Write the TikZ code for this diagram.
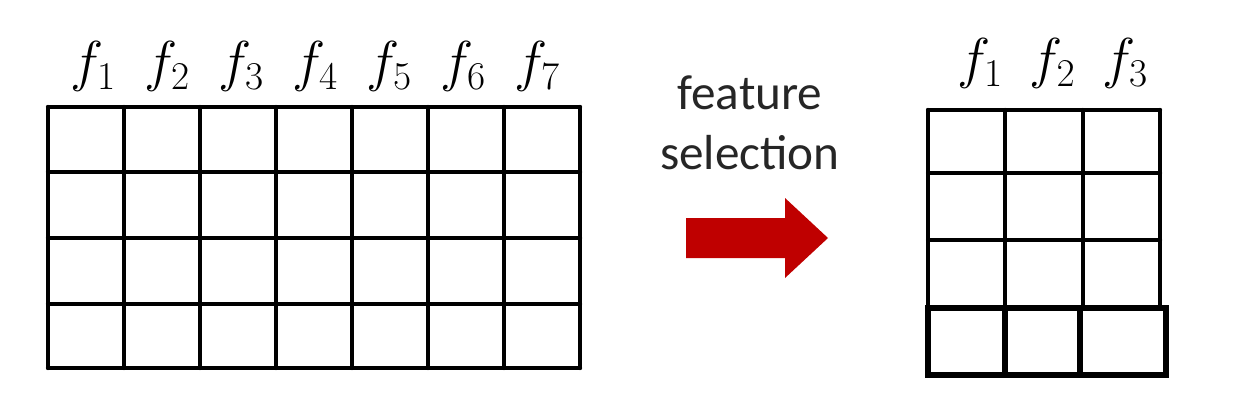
\RequirePackage{fix-cm}
\documentclass[tikz,border=0pt]{standalone}
\usepackage{fontspec}
\newfontfamily\stepfont{Carlito}

\begin{document}
\begin{tikzpicture}[
    x=0.025cm, y=0.025cm,
    cellgrid/.style={black, line width=3pt, line cap=round},
    keptrow/.style={black, line width=4.8pt, line join=miter},
    featlbl/.style={font=\fontsize{40}{44}\selectfont, anchor=base, inner sep=0pt},
    steplbl/.style={font=\stepfont\fontsize{35}{42}\selectfont, text=black!85, anchor=base, inner sep=0pt},
    selarrow/.style={fill=red!75!black, draw=none},
  ]
\useasboundingbox (0,0) rectangle (1234,409);

% Full data table: seven feature columns, four rows.
\foreach \i in {0,...,7}
  \draw[cellgrid] ({48+76*\i},41) -- ({48+76*\i},302);
\foreach \y in {302,237,171,105,41}
  \draw[cellgrid] (48,\y) -- (580,\y);
\foreach \i in {1,...,7}
  \node[featlbl] (full\i) at ({93+74*(\i-1)},328) {$f_{\i}$};

% Step label and the arrow between the two tables.
\node[steplbl] (featword) at (750,299) {feature};
\node[steplbl] (selword) at (750,239) {selection};
\fill[selarrow] (686,191) -- (785,191) -- (785,211) -- (828,171)
  -- (785,131) -- (785,151) -- (686,151) -- cycle;

% Reduced table: three kept features, last row drawn heavier.
\foreach \i in {0,...,3}
  \draw[cellgrid] ({928+77.33*\i},101) -- ({928+77.33*\i},299);
\foreach \y in {299,236,169}
  \draw[cellgrid] (928,\y) -- (1160,\y);
\draw[keptrow] (928,34) rectangle (1166,101);
\draw[keptrow] (1005,34) -- (1005,101);
\draw[keptrow] (1080,34) -- (1080,101);
\foreach \i in {1,2,3}
  \node[featlbl] (kept\i) at ({980+72.5*(\i-1)},331) {$f_{\i}$};

\end{tikzpicture}
\end{document}
